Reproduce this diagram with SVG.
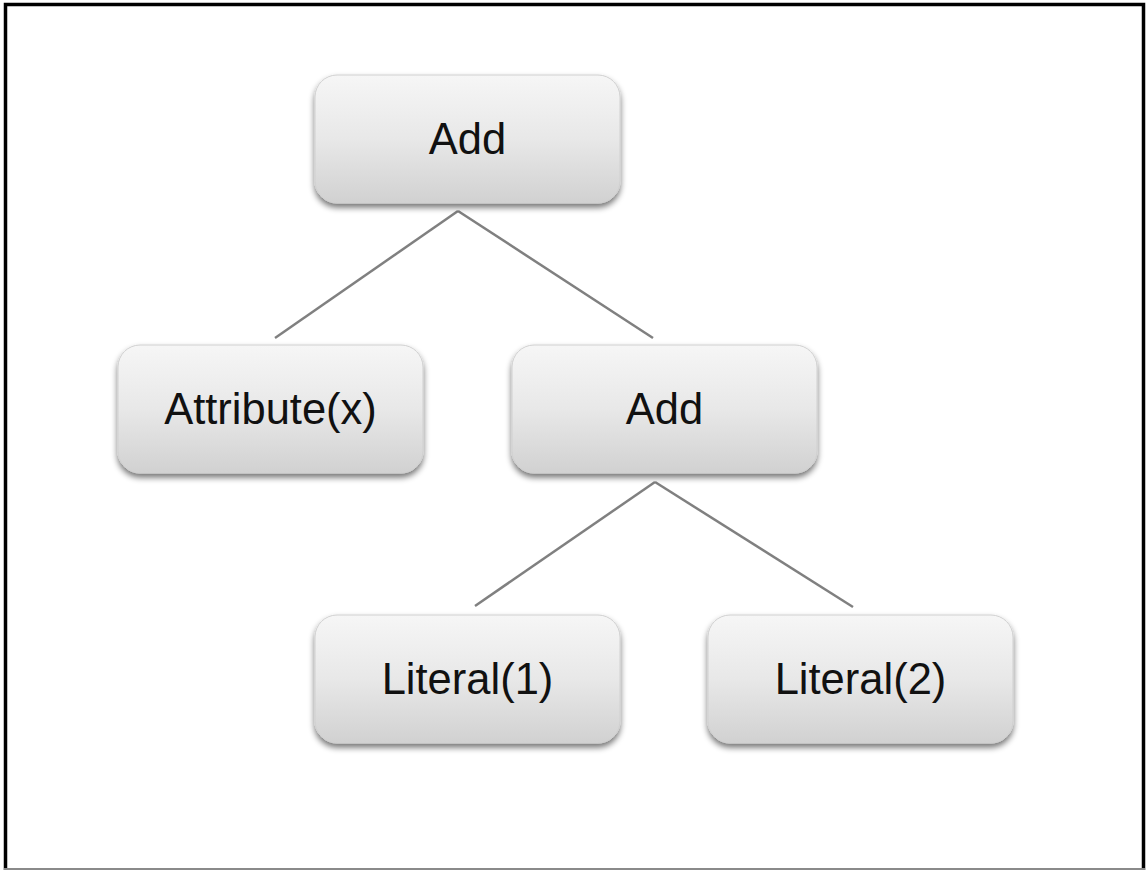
<svg xmlns="http://www.w3.org/2000/svg" width="1146" height="871" viewBox="0 0 1146 871">
  <defs>
    <linearGradient id="boxFill" x1="0" y1="0" x2="0" y2="1">
      <stop offset="0" stop-color="#f6f6f6"/>
      <stop offset="0.5" stop-color="#e8e8e8"/>
      <stop offset="1" stop-color="#d1d1d1"/>
    </linearGradient>
    <filter id="shadow" x="-10%" y="-10%" width="120%" height="130%">
      <feGaussianBlur in="SourceAlpha" stdDeviation="3"/>
      <feOffset dx="0" dy="4" result="b"/>
      <feComponentTransfer><feFuncA type="linear" slope="0.55"/></feComponentTransfer>
      <feMerge><feMergeNode/><feMergeNode in="SourceGraphic"/></feMerge>
    </filter>
  </defs>
  <style>
    .box { fill: url(#boxFill); stroke: #d0d0d0; stroke-width: 1; filter: url(#shadow); }
    .label { font-family: "Liberation Sans", Arial, sans-serif; font-size: 43.5px; fill: #111; text-anchor: middle; }
    .edge { stroke: #808080; stroke-width: 2.5; fill: none; }
  </style>
  <rect x="0" y="0" width="1146" height="871" fill="#ffffff"/>
  <!-- frame -->
  <path d="M5.5 870 V4.5 H1143.5 V870" fill="none" stroke="#000" stroke-width="3.5"/>
  <line x1="4" y1="869" x2="1145" y2="869" stroke="#8a8a8a" stroke-width="2"/>

  <g id="connectors">
    <line class="edge" x1="458" y1="211" x2="275" y2="338"/>
    <line class="edge" x1="458" y1="211" x2="653" y2="338"/>
    <line class="edge" x1="655" y1="482" x2="475" y2="606"/>
    <line class="edge" x1="655" y1="482" x2="853" y2="607"/>
  </g>

  <g id="add-root">
    <rect class="box" x="315" y="75" width="305" height="128" rx="22"/>
    <text class="label" x="467.5" y="154">Add</text>
  </g>
  <g id="attribute-x">
    <rect class="box" x="118" y="345" width="305" height="128" rx="22"/>
    <text class="label" x="270.5" y="424">Attribute(x)</text>
  </g>
  <g id="add-inner">
    <rect class="box" x="512" y="345" width="305" height="128" rx="22"/>
    <text class="label" x="664.5" y="424">Add</text>
  </g>
  <g id="literal-1">
    <rect class="box" x="315" y="615" width="305" height="128" rx="22"/>
    <text class="label" x="467.5" y="694">Literal(1)</text>
  </g>
  <g id="literal-2">
    <rect class="box" x="708" y="615" width="305" height="128" rx="22"/>
    <text class="label" x="860.5" y="694">Literal(2)</text>
  </g>
</svg>
